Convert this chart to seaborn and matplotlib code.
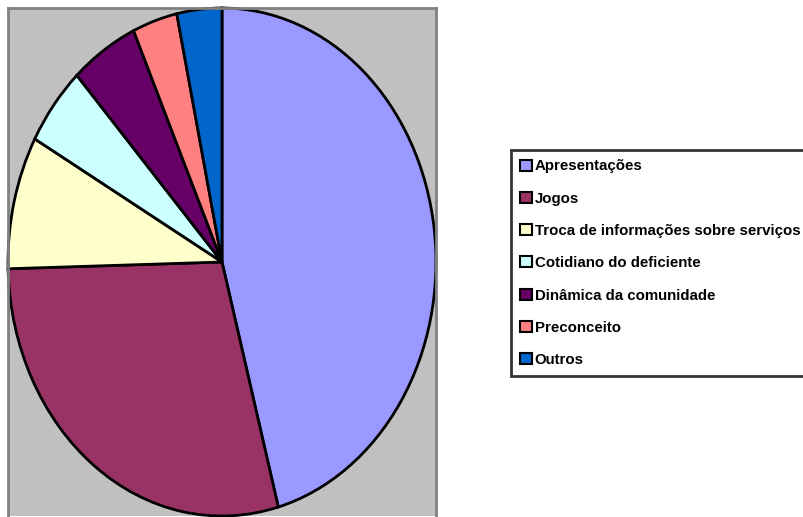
import matplotlib
matplotlib.use("Agg")
import matplotlib.pyplot as plt
import seaborn as sns
from matplotlib.patches import Patch

# data
categories = [
    "Apresentações",
    "Jogos",
    "Troca de informações sobre serviços",
    "Cotidiano do deficiente",
    "Dinâmica da comunidade",
    "Preconceito",
    "Outros",
]
counts = [27, 17, 5, 3, 3, 2, 2]
colors = ["#9999FF", "#993366", "#FFFFCC", "#CCFFFF", "#660066", "#FF8080", "#0066CC"]

sns.set_theme(style="white")
plt.rcParams["font.family"] = ["Liberation Sans", "DejaVu Sans"]

fig = plt.figure(figsize=(8.04, 5.17), dpi=100)
fig.patch.set_facecolor("white")

# plot area (grey box), pie stretched to fill it
ax = fig.add_axes([8 / 804, 1 / 517, 428 / 804, 508 / 517])
ax.set_facecolor("#C0C0C0")
wedges, _ = ax.pie(
    counts,
    colors=sns.color_palette(colors),
    startangle=90,
    counterclock=False,
    radius=1.0,
    wedgeprops=dict(edgecolor="black", linewidth=2),
    frame=True,
)
ax.set_aspect("auto")
ax.set_xlim(-1.0, 1.0)
ax.set_ylim(-1.0, 1.0)
ax.set_xticks([])
ax.set_yticks([])
for sp in ax.spines.values():
    sp.set_color("#808080")
    sp.set_linewidth(2)
ax.spines["bottom"].set_visible(False)

handles = [Patch(facecolor=c, edgecolor="black", linewidth=1.5) for c in colors]
leg = fig.legend(
    handles,
    categories,
    loc="upper left",
    bbox_to_anchor=(511 / 804, 1 - 150 / 517),
    frameon=True,
    fancybox=False,
    handlelength=0.75,
    handleheight=0.75,
    handletextpad=0.2,
    labelspacing=1.22,
    borderpad=0.62,
    borderaxespad=0,
    prop=dict(family=["Liberation Sans", "DejaVu Sans"], weight="bold", size=10.8),
)
leg.get_frame().set_edgecolor("black")
leg.get_frame().set_linewidth(2)
leg.get_frame().set_facecolor("white")
for t in leg.get_texts():
    t.set_color("black")

fig.savefig("out.png", dpi=100)
